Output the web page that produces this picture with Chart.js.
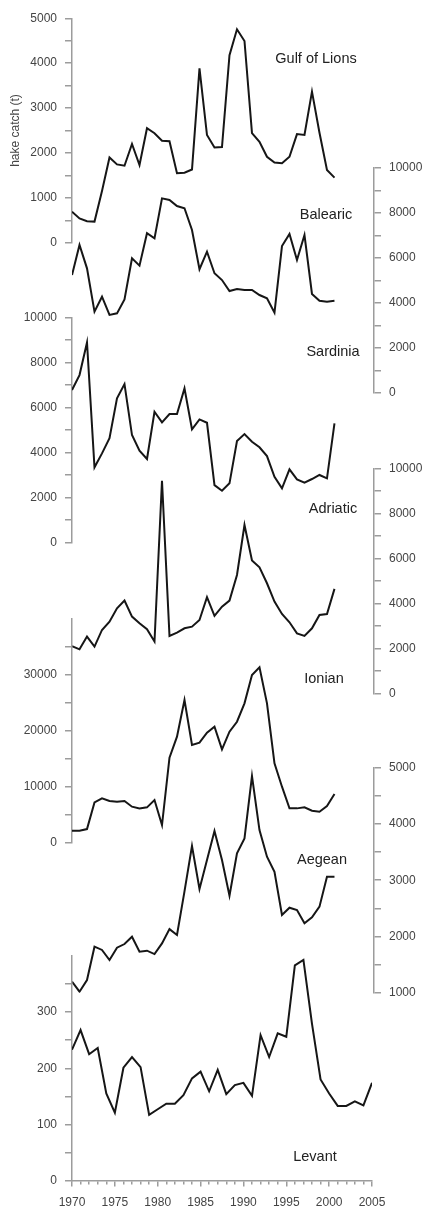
<!DOCTYPE html>
<html>
<head>
<meta charset="utf-8">
<script src="https://cdn.jsdelivr.net/npm/chart.js"></script>
<style>
  html, body { margin: 0; padding: 0; background: #fff; }
  #wrap { position: relative; width: 425px; height: 1210px; overflow: hidden; }
  #wrap canvas { position: absolute; left: 0; top: 0; }
  .area-name {
    position: absolute; transform: translate(-50%, -50%);
    font-family: "Liberation Sans", Arial, sans-serif; font-size: 14.5px; color: #222;
    white-space: nowrap;
  }
</style>
</head>
<body>
<div id="wrap">
  <canvas id="gulf" width="425" height="1210"></canvas>
  <canvas id="balearic" width="425" height="1210"></canvas>
  <canvas id="sardinia" width="425" height="1210"></canvas>
  <canvas id="adriatic" width="425" height="1210"></canvas>
  <canvas id="ionian" width="425" height="1210"></canvas>
  <canvas id="aegean" width="425" height="1210"></canvas>
  <canvas id="levant" width="425" height="1210"></canvas>

  <div class="area-name" style="left:316px; top:58px;">Gulf of Lions</div>
  <div class="area-name" style="left:326px; top:214px;">Balearic</div>
  <div class="area-name" style="left:333px; top:351px;">Sardinia</div>
  <div class="area-name" style="left:333px; top:508px;">Adriatic</div>
  <div class="area-name" style="left:324px; top:678px;">Ionian</div>
  <div class="area-name" style="left:322px; top:859px;">Aegean</div>
  <div class="area-name" style="left:315px; top:1156px;">Levant</div>
</div>

<script>
// years and hake catch (t) per area
const years = [1970, 1971, 1972, 1973, 1974, 1975, 1976, 1977, 1978, 1979,
               1980, 1981, 1982, 1983, 1984, 1985, 1986, 1987, 1988, 1989,
               1990, 1991, 1992, 1993, 1994, 1995, 1996, 1997, 1998, 1999,
               2000, 2001, 2002, 2003, 2004, 2005];

const gulfOfLions = [690, 540, 480, 470, 1150, 1900, 1745, 1715, 2200, 1730, 2550, 2440, 2270, 2260, 1550, 1560, 1630, 3885,
                     2400, 2120, 2130, 4180, 4755, 4495, 2440, 2250, 1915, 1785, 1770, 1915, 2420, 2400, 3365, 2450, 1620, 1450];
const balearic = [5240, 6580, 5540, 3615, 4280, 3470, 3540, 4160, 5985, 5660, 7100, 6875, 8650, 8580, 8310, 8210, 7245, 5500,
                  6280, 5320, 5020, 4530, 4620, 4580, 4580, 4355, 4210, 3570, 6530, 7070, 5910, 7020, 4400, 4100, 4060, 4100];
const sardinia = [6785, 7450, 8900, 3350, 3970, 4640, 6415, 7050, 4785, 4090, 3720, 5820, 5350, 5720, 5720, 6860, 5040, 5480,
                  5330, 2560, 2310, 2640, 4520, 4830, 4490, 4240, 3850, 2930, 2415, 3260, 2815, 2670, 2830, 3010, 2860, 5300];
const adriatic = [2100, 1955, 2520, 2075, 2815, 3185, 3780, 4120, 3410, 3110, 2845, 2300, 9450, 2550, 2700, 2890, 2960, 3260,
                  4270, 3440, 3850, 4120, 5260, 7480, 5900, 5600, 4890, 4075, 3525, 3155, 2665, 2550, 2890, 3480, 3525, 4640];
const ionian = [2140, 2140, 2440, 7200, 7920, 7440, 7320, 7440, 6430, 6130, 6310, 7620, 3150, 15180, 18930, 25480, 17440, 17860,
                19640, 20710, 16670, 19820, 21600, 24890, 29940, 31310, 24890, 14170, 10000, 6130, 6130, 6310, 5710, 5540, 6550, 8690];
const aegean = [1196, 1018, 1225, 1818, 1760, 1580, 1800, 1865, 1995, 1730, 1747, 1687, 1877, 2130, 2025, 2800, 3607, 2843,
                3359, 3874, 3359, 2724, 3477, 3744, 4852, 3892, 3418, 3151, 2381, 2511, 2470, 2233, 2339, 2529, 3062, 3062];
const levant = [233, 268, 225, 236, 155, 121, 201, 220, 202, 117, 127, 137, 137, 152, 182, 194, 159, 197,
                154, 170, 174, 151, 259, 220, 262, 256, 383, 393, 279, 180, 155, 133, 133, 141, 134, 174];

// tick labels shown on each axis
const gulfTicks = [0, 1000, 2000, 3000, 4000, 5000];
const tenKTicks = [0, 2000, 4000, 6000, 8000, 10000];
const ionianTicks = [0, 10000, 20000, 30000];
const aegeanTicks = [1000, 2000, 3000, 4000, 5000];
const levantTicks = [0, 100, 200, 300];
const yearTicks = [1970, 1975, 1980, 1985, 1990, 1995, 2000, 2005];

const AXIS_GREY = '#9c9c9c';
const LABEL_GREY = '#444';
const FONT = { family: '"Liberation Sans", Arial, sans-serif', size: 12 };

function makePanel(id, values, p) {
    const left = p.side === 'left';
    const scales = {
        x: {
            type: 'linear',
            min: 1970,
            max: p.xMax,
            display: false
        },
        y: {
            position: p.side,
            min: p.min,
            max: p.max,
            ticks: {
                stepSize: p.step,
                autoSkip: false,
                padding: 8,
                color: LABEL_GREY,
                font: FONT,
                callback: function(v) { return p.labels.includes(v) ? String(v) : ''; }
            },
            grid: {
                drawOnChartArea: false,
                tickLength: 7,
                lineWidth: 1.5,
                tickColor: function(c) { return (p.hideAbove !== undefined && c.tick && c.tick.value > p.hideAbove) ? 'rgba(0,0,0,0)' : AXIS_GREY; }
            },
            border: { color: AXIS_GREY, width: 1.5 },
            afterFit: function(s) { s.width = left ? 72 : 51; }
        }
    };
    if (p.title) {
        scales.y.title = {
            display: true,
            text: 'hake catch (t)',
            color: LABEL_GREY,
            font: FONT,
            padding: { top: 8, bottom: 0 }
        };
    }
    if (p.xAxis) {
        scales.x = {
            type: 'linear',
            min: 1970,
            max: 2005,
            position: 'bottom',
            ticks: {
                stepSize: 1,
                autoSkip: false,
                maxRotation: 0,
                padding: 9,
                color: LABEL_GREY,
                font: FONT,
                callback: function(v) { return yearTicks.includes(v) ? String(v) : ''; }
            },
            grid: {
                drawOnChartArea: false,
                tickLength: 6,
                lineWidth: 1.5,
                color: AXIS_GREY,
                tickBorderDash: function(c) { return (c.tick && c.tick.value % 5 !== 0) ? [3, 20] : []; }
            },
            border: { color: AXIS_GREY, width: 1.5 },
            afterFit: function(s) { s.height = 1210 - p.bottom; }
        };
    }

    const ctx = document.getElementById(id).getContext('2d');
    return new Chart(ctx, {
        type: 'line',
        data: {
            datasets: [{
                label: id,
                data: years.map(function(yr, i) { return { x: yr, y: values[i] }; }),
                borderColor: '#161616',
                borderWidth: 2,
                pointRadius: 0,
                tension: 0,
                fill: false
            }]
        },
        options: {
            responsive: false,
            animation: false,
            devicePixelRatio: 1,
            layout: {
                padding: {
                    top: p.top,
                    bottom: p.xAxis ? 0 : 1210 - p.bottom,
                    left: left ? 0 : 72,
                    right: left ? p.rightPad : 0
                }
            },
            plugins: {
                legend: { display: false },
                tooltip: { enabled: false }
            },
            scales: scales
        }
    });
}

// upper panels were drawn on a narrower time scale (1970-2005 spans 72..334 px)
const UPPER_XMAX = 2010.27;

makePanel('gulf', gulfOfLions, { side: 'left', min: 0, max: 5000, step: 500, labels: gulfTicks,
    top: 18.3, bottom: 242.7, title: true, xMax: UPPER_XMAX, rightPad: 51 });
makePanel('balearic', balearic, { side: 'right', min: 0, max: 10000, step: 1000, labels: tenKTicks,
    top: 168, bottom: 393, xMax: UPPER_XMAX });
makePanel('sardinia', sardinia, { side: 'left', min: 0, max: 10000, step: 1000, labels: tenKTicks,
    top: 317.7, bottom: 542.7, xMax: UPPER_XMAX, rightPad: 51 });
makePanel('adriatic', adriatic, { side: 'right', min: 0, max: 10000, step: 1000, labels: tenKTicks,
    top: 468.3, bottom: 693.3, xMax: UPPER_XMAX });
makePanel('ionian', ionian, { side: 'left', min: 0, max: 40000, step: 5000, labels: ionianTicks,
    top: 618.7, bottom: 842.7, xMax: UPPER_XMAX, rightPad: 51, hideAbove: 35000 });
makePanel('aegean', aegean, { side: 'right', min: 1000, max: 5000, step: 500, labels: aegeanTicks,
    top: 767.7, bottom: 992.7, xMax: UPPER_XMAX });
makePanel('levant', levant, { side: 'left', min: 0, max: 400, step: 50, labels: levantTicks,
    top: 955.9, bottom: 1180.6, xAxis: true, rightPad: 53, hideAbove: 350 });
</script>
</body>
</html>
